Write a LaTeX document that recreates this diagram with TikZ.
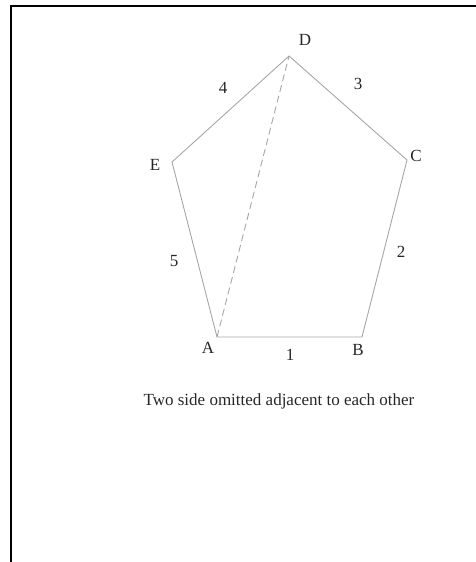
\documentclass[tikz,border=0pt]{standalone}
\usepackage{fontspec}
\setmainfont{Liberation Serif}
\tikzset{
    side/.style={draw=black!35, line width=0.9pt},
    lbl/.style={text=black!85, inner sep=0pt, font=\fontsize{17}{19}\selectfont}
}
\begin{document}
\begin{tikzpicture}[x=1pt,y=-1pt]
    \useasboundingbox (0,0) rectangle (476,562);

    % frame
    \draw[line width=2.2pt] (11,562) -- (11,6) -- (476,6);

    % corners of the pentagon
    \coordinate (A) at (217,337);
    \coordinate (B) at (362,337);
    \coordinate (C) at (407,160);
    \coordinate (D) at (289,56);
    \coordinate (E) at (172,162);

    \draw[side] (A) -- (B) -- (C) -- (D) -- (E) -- cycle;
    \draw[side,dashed,dash pattern=on 7pt off 4pt] (A) -- (D);

    % vertex names
    \node[lbl] (labA) at (208,348) {A};
    \node[lbl] (labB) at (358,350) {B};
    \node[lbl] (labC) at (416,156) {C};
    \node[lbl] (labD) at (305,40) {D};
    \node[lbl] (labE) at (155,165) {E};

    % side numbers
    \node[lbl] (num1) at (290,355) {1};
    \node[lbl] (num2) at (401,252) {2};
    \node[lbl] (num3) at (358,84) {3};
    \node[lbl] (num4) at (223,88) {4};
    \node[lbl] (num5) at (174,261) {5};

    \node[lbl] (caption) at (279,401) {Two side omitted adjacent to each other};

\end{tikzpicture}
\end{document}
